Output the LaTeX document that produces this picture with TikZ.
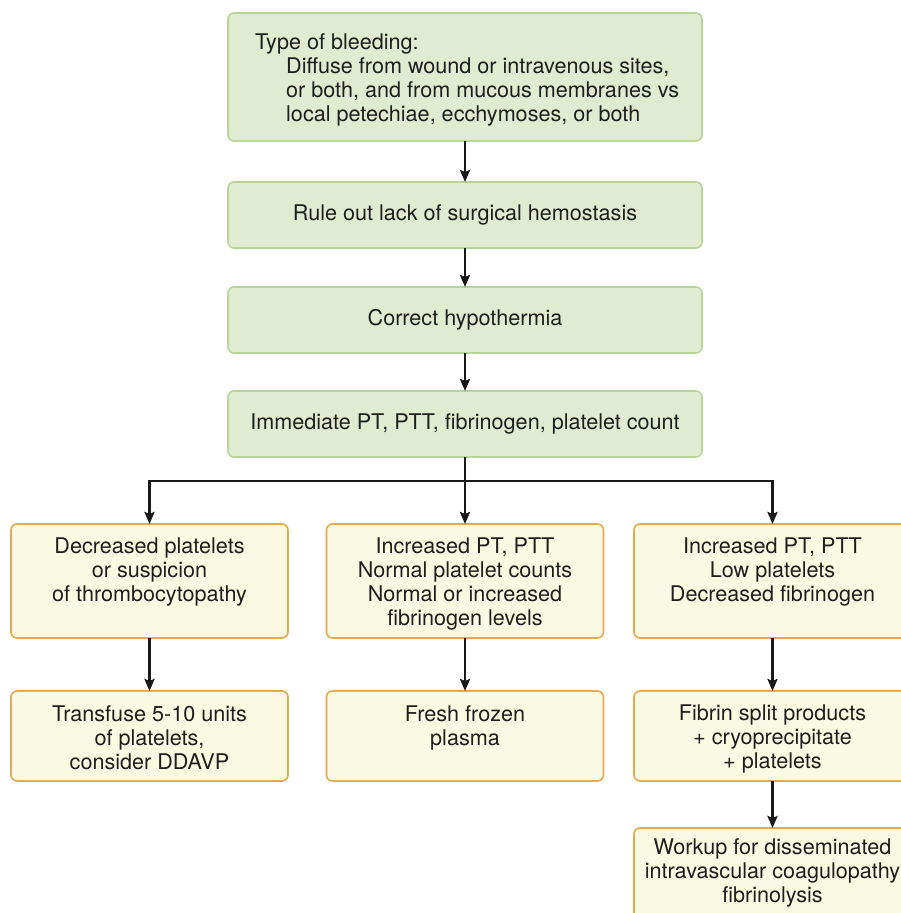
\documentclass[tikz,border=0pt]{standalone}
\usepackage{fontspec}
\setmainfont{TeX Gyre Heros}
\usetikzlibrary{arrows.meta}
\definecolor{gfill}{RGB}{225,235,210}
\definecolor{gline}{RGB}{184,213,152}
\definecolor{yfill}{RGB}{250,250,227}
\definecolor{yline}{RGB}{229,170,78}
\definecolor{txtc}{RGB}{30,30,30}
\begin{document}
\begin{tikzpicture}[x=1pt,y=-1pt,
  box/.style={draw, rounded corners=6pt, line width=1.6pt, anchor=north west, inner sep=0pt, outer sep=0pt},
  gbox/.style={box, fill=gfill, draw=gline},
  ybox/.style={box, fill=yfill, draw=yline},
  txt/.style={font=\fontsize{21.6}{24}\selectfont, text=txtc, align=center, inner sep=0pt},
  arr/.style={line width=2.5pt, draw=black!90, -{Stealth[length=12pt,width=10pt,inset=2pt]}},
]
\useasboundingbox (0,0) rectangle (901,913);
\clip (0,0) rectangle (901,913);
% green boxes
\node[gbox, minimum width=474pt, minimum height=128pt] (b1) at (228,13) {};
\node[gbox, minimum width=474pt, minimum height=66pt] (b2) at (228,182) {};
\node[gbox, minimum width=474pt, minimum height=66pt] (b3) at (228,287) {};
\node[gbox, minimum width=474pt, minimum height=66pt] (b4) at (228,391) {};
% yellow boxes
\node[ybox, minimum width=277pt, minimum height=114pt] (l1) at (11,524) {};
\node[ybox, minimum width=277pt, minimum height=114pt] (m1) at (326.5,524) {};
\node[ybox, minimum width=277pt, minimum height=114pt] (r1) at (634,524) {};
\node[ybox, minimum width=277pt, minimum height=90pt] (l2) at (11,691) {};
\node[ybox, minimum width=277pt, minimum height=90pt] (m2) at (326.5,691) {};
\node[ybox, minimum width=277pt, minimum height=90pt] (r2) at (634,691) {};
\node[ybox, minimum width=277pt, minimum height=120pt] (r3) at (634,828) {};
% texts
\node[txt, align=left, anchor=north west] (t1) at (255,33)
  {Type of bleeding:\\
   \hspace*{31pt}Diffuse from wound or intravenous sites,\\
   \hspace*{31pt}or both, and from mucous membranes vs\\
   \hspace*{31pt}local petechiae, ecchymoses, or both};
\node[txt] (t2) at (b2.center) {Rule out lack of surgical hemostasis};
\node[txt] (t3) at (b3.center) {Correct hypothermia};
\node[txt] (t4) at (b4.center) {Immediate PT, PTT, fibrinogen, platelet count};
\node[txt, anchor=north] (tl1) at ([yshift=-14pt]l1.north) {Decreased platelets\\or suspicion\\of thrombocytopathy};
\node[txt, anchor=north] (tm1) at ([yshift=-14pt]m1.north) {Increased PT, PTT\\Normal platelet counts\\Normal or increased\\fibrinogen levels};
\node[txt, anchor=north] (tr1) at ([yshift=-14pt]r1.north) {Increased PT, PTT\\Low platelets\\Decreased fibrinogen};
\node[txt, anchor=north] (tl2) at ([yshift=-14pt]l2.north) {Transfuse 5-10 units\\of platelets,\\consider DDAVP};
\node[txt, anchor=north] (tm2) at ([yshift=-14pt]m2.north) {Fresh frozen\\plasma};
\node[txt, anchor=north] (tr2) at ([yshift=-14pt]r2.north) {Fibrin split products\\+ cryoprecipitate\\+ platelets};
\node[txt, anchor=north] (tr3) at ([yshift=-10pt]r3.north) {Workup for disseminated\\intravascular coagulopathy\\fibrinolysis};
% connectors
\draw[arr] (b1.south) -- (b2.north);
\draw[arr] (b2.south) -- (b3.north);
\draw[arr] (b3.south) -- (b4.north);
\coordinate (sp) at (465,481);
\draw[arr] (b4.south) -- (m1.north);
\draw[arr] (sp) -| (l1.north);
\draw[arr] (sp) -| (r1.north);
\draw[arr] (l1.south) -- (l2.north);
\draw[arr] (m1.south) -- (m2.north);
\draw[arr] (r1.south) -- (r2.north);
\draw[arr] (r2.south) -- (r3.north);
\end{tikzpicture}
\end{document}
